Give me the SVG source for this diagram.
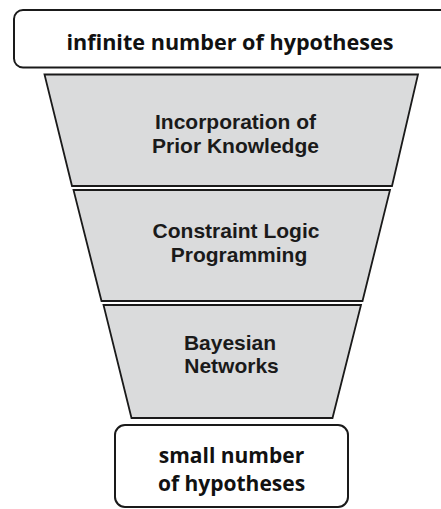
<svg xmlns="http://www.w3.org/2000/svg" width="441" height="509" viewBox="0 0 441 509">
<style>
.box{fill:#fff;stroke:#1a1a1a;stroke-width:2}
.tr{fill:#dadbdc;stroke:#1a1a1a;stroke-width:1.8;stroke-linejoin:miter}
.hum{font-family:"Open Sans","Noto Sans",sans-serif;font-weight:bold;font-size:21.6px;fill:#111;text-anchor:middle}
.ar{font-family:"Liberation Sans",Arial,sans-serif;font-weight:bold;font-size:21px;fill:#1a1a1a;text-anchor:middle}
</style>
<rect width="441" height="509" fill="#fff"/>
<g id="top">
<rect class="box" x="14" y="10" width="440" height="57.5" rx="9"/>
<text class="hum" x="230" y="50">infinite number of hypotheses</text>
</g>
<g id="prior">
<polygon class="tr" points="44.5,74.5 418,74.5 392,186 72,186"/>
<text class="ar" x="235.5" y="129">Incorporation of</text>
<text class="ar" x="235.5" y="152.5">Prior Knowledge</text>
</g>
<g id="clp">
<polygon class="tr" points="73.5,190 390,190 362.5,301 101.5,301"/>
<text class="ar" x="236" y="237.5">Constraint Logic</text>
<text class="ar" x="239" y="261.5">Programming</text>
</g>
<g id="bayes">
<polygon class="tr" points="103.5,305 361,305 332.5,418 131.5,418"/>
<text class="ar" x="230" y="350">Bayesian</text>
<text class="ar" x="231.5" y="372.5">Networks</text>
</g>
<g id="bottom">
<rect class="box" x="115" y="425" width="233" height="82" rx="10"/>
<text class="hum" x="231.5" y="463" style="font-size:21px">small number</text>
<text class="hum" x="231.5" y="491" style="font-size:21px">of hypotheses</text>
</g>
<g id="connectors"></g>
</svg>
